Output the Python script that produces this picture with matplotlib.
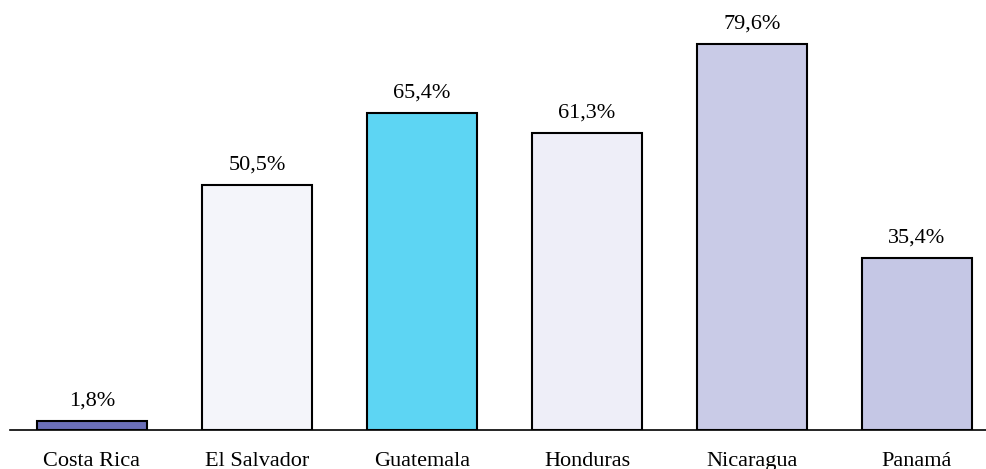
import matplotlib.pyplot as plt

countries = ["Costa Rica", "El Salvador", "Guatemala", "Honduras", "Nicaragua", "Panamá"]
values = [1.8, 50.5, 65.4, 61.3, 79.6, 35.4]
colors = ["#6b6fb8", "#f4f5fa", "#5dd5f3", "#eeeef8", "#c9cbe7", "#c5c7e5"]

W, H = 987, 469
fig = plt.figure(figsize=(W / 100, H / 100), dpi=100)
ax = fig.add_axes([9.5 / W, 39 / H, 990 / W, 427 / H])

x = range(len(countries))
ax.bar(x, values, width=0.67, color=colors, edgecolor="black", linewidth=1.5)

for xi, v in zip(x, values):
    ax.annotate(f"{v:.1f}%".replace(".", ","), (xi, v), xytext=(0, 11),
                textcoords="offset points", ha="center", va="baseline",
                fontsize=16, family="Liberation Serif")

ax.set_xlim(-0.5, 5.5)
ax.set_ylim(0, 88)
ax.set_xticks(list(x))
ax.set_xticklabels(countries, fontsize=16, family="Liberation Serif")
ax.tick_params(axis="x", length=0, pad=16)
ax.set_yticks([])
for s in ["top", "right", "left"]:
    ax.spines[s].set_visible(False)
ax.spines["bottom"].set_linewidth(1.2)

fig.savefig("out.png", dpi=100)
